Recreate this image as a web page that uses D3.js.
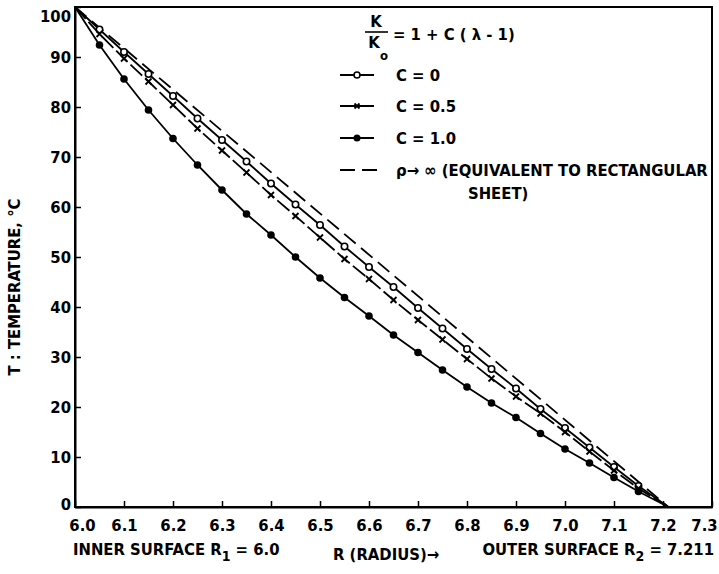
<!DOCTYPE html>
<html><head><meta charset="utf-8">
<script src="https://cdn.jsdelivr.net/npm/d3@7/dist/d3.min.js"></script>
<style>
body{margin:0;background:#fff;}
text{font-family:"DejaVu Sans Condensed","Liberation Sans Narrow","Roboto Condensed",sans-serif;font-stretch:condensed;font-weight:bold;fill:#000;}
</style></head><body>
<script>
// Data
const radius = [6.00,6.05,6.10,6.15,6.20,6.25,6.30,6.35,6.40,6.45,6.50,6.55,6.60,6.65,6.70,6.75,6.80,6.85,6.90,6.95,7.00,7.05,7.10,7.15,7.211];
const tempC0  = [100,95.5,91.0,86.6,82.2,77.7,73.4,69.1,64.7,60.5,56.4,52.1,48.0,44.0,39.8,35.7,31.6,27.6,23.7,19.6,15.8,11.9,8.0,4.2,0];
const tempC05 = [100,94.6,89.7,85.1,80.4,75.7,71.3,66.9,62.4,58.2,53.9,49.6,45.6,41.4,37.4,33.5,29.6,25.7,22.1,18.7,15.0,11.1,7.3,3.7,0];
const tempC10 = [100,92.4,85.6,79.4,73.7,68.4,63.4,58.6,54.4,50.0,45.8,41.9,38.2,34.4,30.9,27.4,24.0,20.8,17.9,14.7,11.6,8.8,5.9,3.1,0];
const rectR = [6.0, 7.211];
const rectT = [100, 0];
const xTicks = [6.0,6.1,6.2,6.3,6.4,6.5,6.6,6.7,6.8,6.9,7.0,7.1,7.2,7.3];
const yTicks = [0,10,20,30,40,50,60,70,80,90,100];
const legendLabels = ["C = 0","C = 0.5","C = 1.0"];

const W=719,H=574;
const svg=d3.select("body").append("svg").attr("width",W).attr("height",H);
const x=d3.scaleLinear().domain([6.0,7.3]).range([75,712]);
const y=d3.scaleLinear().domain([0,100]).range([507,7]);

// frame
svg.append("rect").attr("x",x(6.0)).attr("y",y(100)).attr("width",x(7.3)-x(6.0)).attr("height",y(0)-y(100))
  .attr("fill","none").attr("stroke","#000").attr("stroke-width",2);

// axes (ticks inward)
const xAxis=svg.append("g").attr("transform",`translate(0,${y(0)})`)
  .call(d3.axisBottom(x).tickValues(xTicks).tickSizeInner(-6).tickSizeOuter(0).tickFormat(d3.format(".1f")));
xAxis.select(".domain").attr("stroke-width",2);
xAxis.selectAll(".tick line").attr("stroke-width",1.5);
xAxis.selectAll(".tick text").attr("y",12).attr("dy","0.71em").style("font-size","16.5px")
  .attr("dx",d=>d===6.0?7:(d===7.3?-8:0));

const yAxis=svg.append("g").attr("transform",`translate(${x(6.0)},0)`)
  .call(d3.axisLeft(y).tickValues(yTicks).tickSizeInner(-6).tickSizeOuter(0).tickFormat(d3.format("d")));
yAxis.select(".domain").attr("stroke-width",2);
yAxis.selectAll(".tick line").attr("stroke-width",1.5);
yAxis.selectAll(".tick text").attr("x",-4).style("font-size","16.5px")
  .attr("dy",d=>d===100?"0.85em":(d===0?"0.15em":"0.32em"));

// lines
const line=(xs,ys)=>d3.line().x((d,i)=>x(xs[i])).y((d,i)=>y(ys[i]))(ys);
svg.append("path").attr("d",line(rectR,rectT)).attr("fill","none").attr("stroke","#000").attr("stroke-width",1.8).attr("stroke-dasharray","15,7");
svg.append("path").attr("d",line(radius,tempC0)).attr("fill","none").attr("stroke","#000").attr("stroke-width",1.8);
svg.append("path").attr("d",line(radius,tempC05)).attr("fill","none").attr("stroke","#000").attr("stroke-width",1.8).attr("stroke-dasharray","16,4");
svg.append("path").attr("d",line(radius,tempC10)).attr("fill","none").attr("stroke","#000").attr("stroke-width",1.8);

const idx=d3.range(1,radius.length-1);
// markers
svg.append("g").selectAll("circle").data(idx).join("circle")
  .attr("cx",i=>x(radius[i])).attr("cy",i=>y(tempC0[i])).attr("r",3.2)
  .attr("fill","#fff").attr("stroke","#000").attr("stroke-width",1.6);
const cross=(g,cx,cy,s)=>g.append("path").attr("d",`M${cx-s},${cy-s}L${cx+s},${cy+s}M${cx-s},${cy+s}L${cx+s},${cy-s}`).attr("stroke","#000").attr("stroke-width",1.8);
const gx=svg.append("g");
idx.forEach(i=>cross(gx,x(radius[i]),y(tempC05[i]),3));
svg.append("g").selectAll("circle").data(idx).join("circle")
  .attr("cx",i=>x(radius[i])).attr("cy",i=>y(tempC10[i])).attr("r",3.8).attr("fill","#000");

// legend formula
const lg=svg.append("g");
lg.append("text").attr("x",376).attr("y",27).attr("text-anchor","middle").style("font-size","16.5px").text("K");
lg.append("line").attr("x1",365).attr("x2",388).attr("y1",32).attr("y2",32).attr("stroke","#000").attr("stroke-width",1.6);
lg.append("text").attr("x",374).attr("y",48).attr("text-anchor","middle").style("font-size","16.5px").text("K");
lg.append("text").attr("x",384).attr("y",60).attr("text-anchor","middle").style("font-size","13px").text("o");
lg.append("text").attr("x",393).attr("y",40).style("font-size","16.5px").text("= 1 + C ( λ - 1)");

// legend entries
const rows=[75,106,138];
rows.forEach((ry,k)=>{
  lg.append("line").attr("x1",340).attr("x2",374).attr("y1",ry).attr("y2",ry).attr("stroke","#000").attr("stroke-width",1.8);
  if(k===0) lg.append("circle").attr("cx",357).attr("cy",ry).attr("r",3).attr("fill","#fff").attr("stroke","#000").attr("stroke-width",1.6);
  if(k===1) cross(lg,357,ry,2.5);
  if(k===2) lg.append("circle").attr("cx",357).attr("cy",ry).attr("r",3.5).attr("fill","#000");
  lg.append("text").attr("x",396).attr("y",ry).attr("dy","0.35em").style("font-size","16.5px").text(legendLabels[k]);
});
lg.append("line").attr("x1",340).attr("x2",384).attr("y1",170).attr("y2",170).attr("stroke","#000").attr("stroke-width",1.8).attr("stroke-dasharray","15,7");
lg.append("text").attr("x",396).attr("y",170).attr("dy","0.35em").style("font-size","16.5px").text("ρ→ ∞ (EQUIVALENT TO RECTANGULAR");
lg.append("text").attr("x",468).attr("y",193).attr("dy","0.35em").style("font-size","16.5px").text("SHEET)");

// axis titles
svg.append("text").attr("transform","translate(20,287) rotate(-90)").attr("text-anchor","middle").style("font-size","16.5px").text("T : TEMPERATURE, °C");
const t1=svg.append("text").attr("x",73).attr("y",555).style("font-size","16.5px");
t1.append("tspan").text("INNER SURFACE R");
t1.append("tspan").attr("dy",6).style("font-size","14px").text("1");
t1.append("tspan").attr("dy",-6).text(" = 6.0");
svg.append("text").attr("x",333).attr("y",560).style("font-size","16.5px").text("R (RADIUS)→");
const t2=svg.append("text").attr("x",714).attr("y",555).attr("text-anchor","end").style("font-size","16.5px");
t2.append("tspan").text("OUTER SURFACE R");
t2.append("tspan").attr("dy",6).style("font-size","14px").text("2");
t2.append("tspan").attr("dy",-6).text(" = 7.211");
</script></body></html>
